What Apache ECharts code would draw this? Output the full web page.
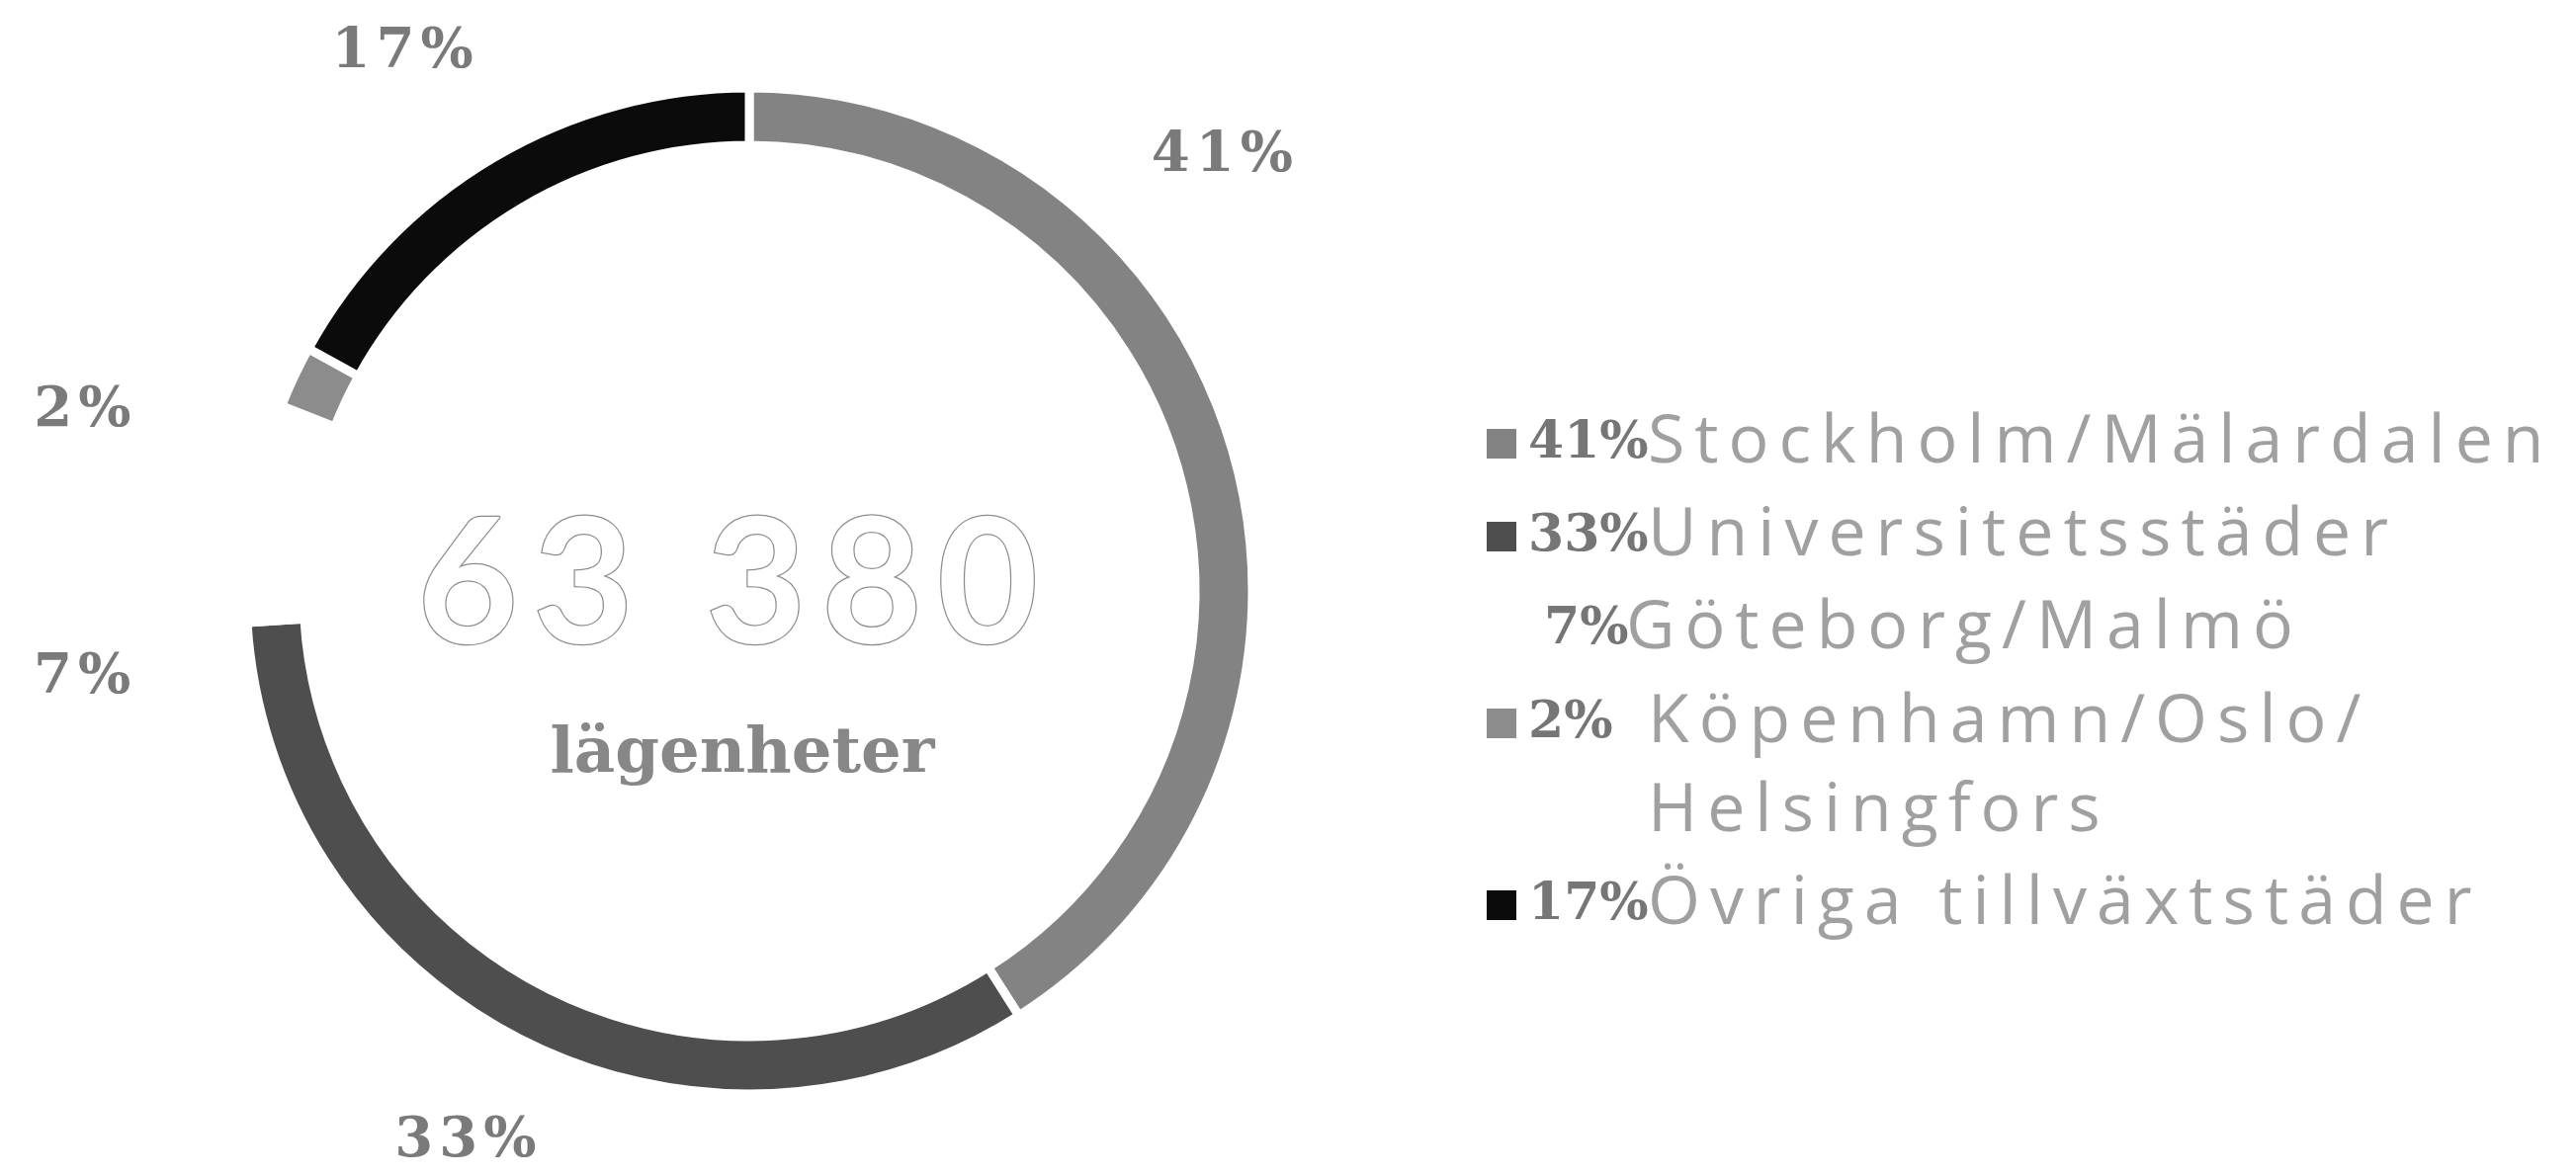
<!DOCTYPE html>
<html>
<head>
<meta charset="utf-8">
<script src="https://cdn.jsdelivr.net/npm/echarts@6/dist/echarts.min.js"></script>
<style>
  html, body { margin: 0; padding: 0; background: #ffffff; }
  #chart { width: 2606px; height: 1189px; }
</style>
</head>
<body>
<div id="chart"></div>
<script>
// Apartment portfolio split by region
const regions = ['Stockholm/Mälardalen', 'Universitetsstäder', 'Göteborg/Malmö', 'Köpenhamn/Oslo/Helsingfors', 'Övriga tillväxtstäder'];
const shares = [41, 33, 7, 2, 17];
const totalApartments = 63380;
const totalUnit = 'lägenheter';

// Slice colours (Göteborg/Malmö is drawn in white)
const palette = ['#838383', '#4e4e4e', '#ffffff', '#8c8c8c', '#0b0b0b'];

// Ring geometry
const CX = 758, CY = 598;
// Where each percentage label sits: [degrees clockwise from 12 o'clock, distance from centre]
const labelPolar = [[47, 654], [207.5, 622], [263, 680], [285.5, 700], [327.5, 653]];
const LABEL_DY = 6;

const slabFont = '"DejaVu Serif", serif';
const sansFont = '"Open Sans", "Lato", sans-serif';

function formatThousands(n) {
  return String(n).replace(/\B(?=(\d{3})+(?!\d))/g, ' ');
}

// Wrap every character in its own rich token so the text gets wide tracking;
// the last character uses the variant without trailing padding.
function tracked(str, style) {
  const chars = Array.from(str);
  return chars.map((c, i) => '{' + (i === chars.length - 1 ? style + 'Last' : style) + '|' + c + '}').join('');
}

const seriesData = regions.map((name, i) => ({
  name: name,
  value: shares[i],
  itemStyle: { color: palette[i] }
}));

function legendText(name) {
  const i = regions.indexOf(name);
  const pct = shares[i] + '%';
  if (i === 3) {
    const cut = name.indexOf('Oslo/') + 5;
    return '{sp|\u00a0}\n{p|' + pct + '}' + tracked(name.slice(0, cut), 'c') +
           '\n{ind|\u00a0}' + tracked(name.slice(cut), 'c');
  }
  if (i === 2) {
    return '{p7|' + pct + '}' + tracked(name, 'c');
  }
  return '{p|' + pct + '}' + tracked(name, 'c');
}

const nameStyle = { fontFamily: sansFont, fontSize: 68, color: '#a0a0a0', lineHeight: 90 };
const legendRich = {
  p:     { fontFamily: slabFont, fontWeight: 'bold', fontSize: 52, color: '#767676', width: 121, padding: [0, 0, 0, 7], lineHeight: 90 },
  p7:    { fontFamily: slabFont, fontWeight: 'bold', fontSize: 52, color: '#767676', width: 83, padding: [0, 0, 0, 23], lineHeight: 90 },
  c:     Object.assign({ padding: [0, 10, 0, 0] }, nameStyle),
  cLast: Object.assign({}, nameStyle),
  ind:   { width: 128, lineHeight: 90, fontSize: 68 },
  sp:    { lineHeight: 90, fontSize: 68 }
};

const legendBase = {
  orient: 'vertical',
  left: 1504,
  padding: 0,
  itemWidth: 30,
  itemHeight: 30,
  itemGap: 4,
  icon: 'rect',
  selectedMode: false,
  itemStyle: { borderWidth: 0 },
  formatter: legendText,
  textStyle: { lineHeight: 90, rich: legendRich }
};

const labelStyle = { fontFamily: slabFont, fontWeight: 'bold', fontSize: 56, color: '#7a7a7a' };
const totalStyle = {
  fontFamily: 'Lato, sans-serif', fontWeight: 'bold', fontSize: 176,
  fill: '#ffffff', stroke: '#8c8c8c', lineWidth: 2.5
};

const chart = echarts.init(document.getElementById('chart'), null, { renderer: 'canvas' });

chart.setOption({
  backgroundColor: '#ffffff',
  animation: false,
  legend: [
    Object.assign({}, legendBase, { top: 404, data: regions.slice(0, 3) }),
    Object.assign({}, legendBase, { top: 597, data: regions.slice(3, 4) }),
    Object.assign({}, legendBase, { top: 871, data: regions.slice(4) })
  ],
  series: [{
    type: 'pie',
    center: [CX, CY],
    radius: [451, 509],
    startAngle: 90,
    clockwise: true,
    avoidLabelOverlap: false,
    emphasis: { disabled: true },
    itemStyle: { borderColor: '#ffffff', borderWidth: 9 },
    label: {
      show: true,
      position: 'outside',
      formatter: p => tracked(p.value + '%', 'l'),
      rich: {
        l: Object.assign({ padding: [0, 6, 0, 0] }, labelStyle),
        lLast: Object.assign({}, labelStyle)
      }
    },
    labelLine: { show: false },
    labelLayout: function (p) {
      const lp = labelPolar[p.dataIndex];
      const a = lp[0] * Math.PI / 180;
      return {
        x: CX + lp[1] * Math.sin(a),
        y: CY - lp[1] * Math.cos(a) + LABEL_DY,
        align: 'center',
        verticalAlign: 'middle'
      };
    },
    data: seriesData
  }],
  graphic: [
    {
      type: 'text',
      x: 736, y: 594,
      style: {
        text: tracked(formatThousands(totalApartments), 't'),
        rich: {
          t: Object.assign({ padding: [0, 15, 0, 0] }, totalStyle),
          tLast: Object.assign({}, totalStyle)
        },
        align: 'center',
        verticalAlign: 'middle'
      }
    },
    {
      type: 'text',
      x: 751, y: 764,
      style: {
        text: totalUnit,
        fontFamily: slabFont,
        fontWeight: 'bold',
        fontSize: 64,
        fill: '#878787',
        align: 'center',
        verticalAlign: 'middle'
      }
    }
  ]
});
</script>
</body>
</html>
